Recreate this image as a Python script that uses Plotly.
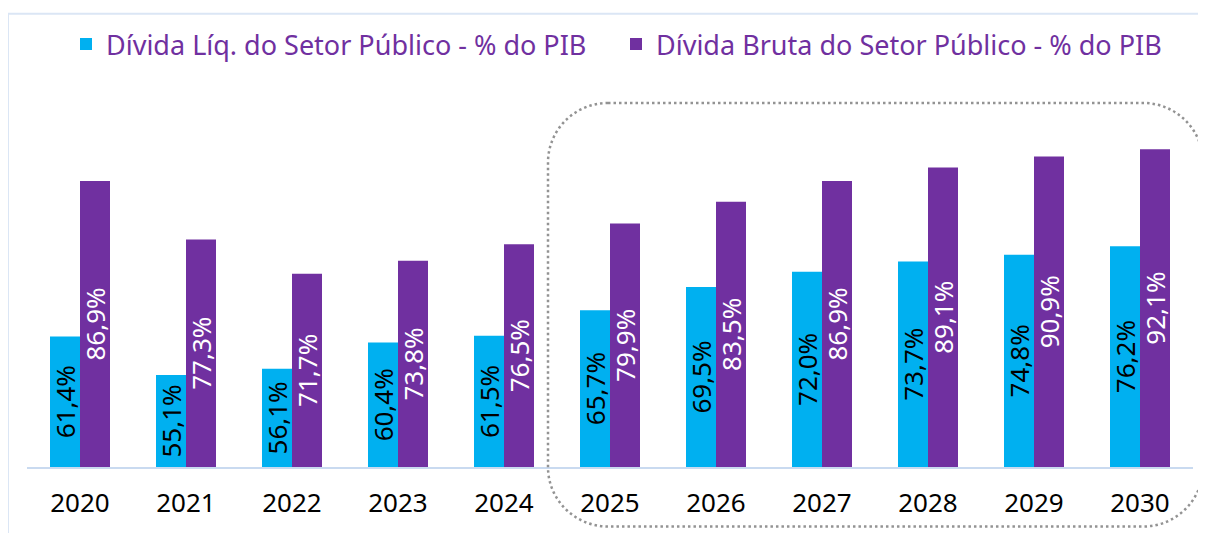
import plotly.graph_objects as go

years = ["2020", "2021", "2022", "2023", "2024", "2025", "2026", "2027", "2028", "2029", "2030"]
divida_liquida = [61.4, 55.1, 56.1, 60.4, 61.5, 65.7, 69.5, 72.0, 73.7, 74.8, 76.2]
divida_bruta = [86.9, 77.3, 71.7, 73.8, 76.5, 79.9, 83.5, 86.9, 89.1, 90.9, 92.1]
name_liq = "Dívida Líq. do Setor Público - % do PIB"
name_bruta = "Dívida Bruta do Setor Público - % do PIB"

Y_MIN, Y_MAX = 40, 100  # axis range (axis starts at 40%, as in the original)

C_LIQ = "#00b0f0"
C_BRUTA = "#7030a0"
FONT = "Noto Sans"

# page body adds an 8px offset; work in screen pixels and shift
OFF = 8
W, H = 1206 - OFF, 533 - OFF
PLOT_L, PLOT_R, PLOT_T, PLOT_B = 27, 1193, 98, 467  # screen pixels
ML, MR = PLOT_L - OFF, (W + OFF) - PLOT_R
MT, MB = PLOT_T - OFF, (H + OFF) - PLOT_B
PW, PH = PLOT_R - PLOT_L, PLOT_B - PLOT_T


def px(x):
    return (x - PLOT_L) / PW


def py(y):
    return (PLOT_B - y) / PH


def fmt(v):
    return f"{v:.1f}".replace(".", ",") + "%"


fig = go.Figure()
for vals, name, col, tcol in [(divida_liquida, name_liq, C_LIQ, "black"),
                              (divida_bruta, name_bruta, C_BRUTA, "white")]:
    fig.add_bar(x=years, y=[v - Y_MIN for v in vals], base=Y_MIN, name=name,
                marker=dict(color=col, line=dict(width=0)),
                text=[fmt(v) for v in vals], textposition="inside",
                insidetextanchor="middle", textangle=-90, constraintext="none",
                textfont=dict(color=tcol, size=26, family=FONT), hoverinfo="skip")

# rounded dotted rectangle (screen-pixel geometry converted to paper coords)
x0, y0, x1, y1, r = 548, 100, 1203, 527, 60
k = 0.5523 * r
path = (
    f"M {px(x0 + r)},{py(y0)} L {px(x1 - r)},{py(y0)} "
    f"C {px(x1 - r + k)},{py(y0)} {px(x1)},{py(y0 + r - k)} {px(x1)},{py(y0 + r)} "
    f"L {px(x1)},{py(y1 - r)} "
    f"C {px(x1)},{py(y1 - r + k)} {px(x1 - r + k)},{py(y1)} {px(x1 - r)},{py(y1)} "
    f"L {px(x0 + r)},{py(y1)} "
    f"C {px(x0 + r - k)},{py(y1)} {px(x0)},{py(y1 - r + k)} {px(x0)},{py(y1 - r)} "
    f"L {px(x0)},{py(y0 + r)} "
    f"C {px(x0)},{py(y0 + r - k)} {px(x0 + r - k)},{py(y0)} {px(x0 + r)},{py(y0)} Z"
)

fig.update_layout(
    width=W, height=H,
    margin=dict(l=ML, r=MR, t=MT, b=MB),
    plot_bgcolor="white", paper_bgcolor="white",
    barmode="group", bargap=0.434, bargroupgap=0,
    font=dict(family=FONT, color="black"),
    showlegend=True,
    legend=dict(orientation="h", x=px(66), xanchor="left", y=py(41),
                yanchor="middle", font=dict(size=27, color=C_BRUTA, family=FONT),
                bgcolor="rgba(0,0,0,0)", traceorder="normal", tracegroupgap=0,
                entrywidth=505, entrywidthmode="pixels"),
    xaxis=dict(showgrid=False, showline=True, linecolor="#c9daf0", linewidth=2,
               ticks="", tickfont=dict(size=26, color="black", family=FONT),
               ticklabelstandoff=12, fixedrange=True),
    yaxis=dict(visible=False, range=[Y_MIN, Y_MAX], fixedrange=True),
    shapes=[
        dict(type="rect", xref="paper", yref="paper", x0=px(8), y0=py(10), x1=px(1240), y1=py(560),
             line=dict(color="#dbe6f5", width=2), layer="below"),
        dict(type="path", xref="paper", yref="paper", path=path,
             line=dict(color="#939393", width=2.5, dash="2.5px,3px")),
    ],
)

fig.write_html("out.html")
